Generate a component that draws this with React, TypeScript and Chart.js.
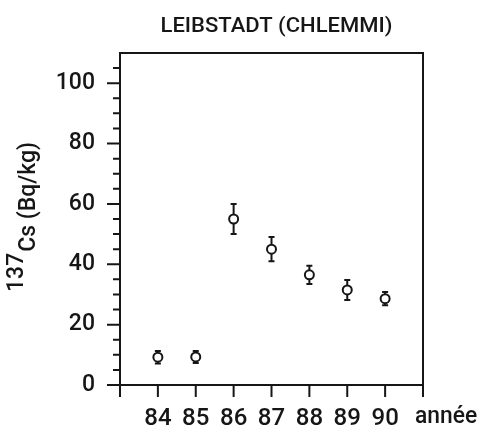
import React, { useEffect, useRef } from 'react';
import { Chart, registerables } from 'chart.js';

Chart.register(...registerables);

const years = [84, 85, 86, 87, 88, 89, 90];
const values = [9.2, 9.3, 55, 45, 36.5, 31.5, 28.6];
const errors = [2.1, 2.0, 5, 4, 3, 3.3, 2.2];
const yTickLabels = [0, 20, 40, 60, 80, 100];
const xTickLabels = [84, 85, 86, 87, 88, 89, 90];
const xTickMarks = [83, 84, 85, 86, 87, 88, 89, 90, 91];
const yMin = 0;
const yMax = 110;
const yMinorStep = 5;
const titleText = 'LEIBSTADT (CHLEMMI)';
const yLabelSup = '137';
const yLabelMain = 'Cs (Bq/kg)';
const xLabel = 'année';

const FONT = 'Roboto, "Liberation Sans", Arial, sans-serif';
const INK = '#161616';

export default function App() {
  const ref = useRef<HTMLCanvasElement | null>(null);

  useEffect(() => {
    if (!ref.current) return;

    const decor = {
      id: 'decor',
      beforeDatasetsDraw(chart: any) {
        const ctx = chart.ctx;
        const xs = chart.scales.x;
        const ys = chart.scales.y;
        ctx.save();
        ctx.strokeStyle = INK;
        ctx.lineWidth = 2;
        years.forEach((yr, i) => {
          const px = xs.getPixelForValue(yr);
          const top = ys.getPixelForValue(values[i] + errors[i]);
          const bot = ys.getPixelForValue(values[i] - errors[i]);
          ctx.beginPath();
          ctx.moveTo(px, top);
          ctx.lineTo(px, bot);
          ctx.moveTo(px - 3, top);
          ctx.lineTo(px + 3, top);
          ctx.moveTo(px - 3, bot);
          ctx.lineTo(px + 3, bot);
          ctx.stroke();
        });
        ctx.restore();
      },
      afterDraw(chart: any) {
        const ctx = chart.ctx;
        const a = chart.chartArea;
        const xs = chart.scales.x;
        const ys = chart.scales.y;
        ctx.save();
        ctx.strokeStyle = INK;
        ctx.lineWidth = 2;
        ctx.strokeRect(a.left, a.top, a.right - a.left, a.bottom - a.top);
        ctx.beginPath();
        xTickMarks.forEach((v) => {
          const px = xs.getPixelForValue(v);
          ctx.moveTo(px, a.bottom);
          ctx.lineTo(px, a.bottom + 12);
        });
        for (let v = yMin; v < yMax; v += yMinorStep) {
          const py = ys.getPixelForValue(v);
          const len = v % 20 === 0 ? 13 : 7;
          ctx.moveTo(a.left, py);
          ctx.lineTo(a.left - len, py);
        }
        ctx.stroke();

        ctx.fillStyle = INK;
        ctx.textBaseline = 'alphabetic';

        // title
        ctx.save();
        ctx.font = `500 21px ${FONT}`;
        ctx.textAlign = 'center';
        const tw = ctx.measureText(titleText).width;
        ctx.translate((a.left + a.right) / 2 + 5, 32);
        ctx.scale(Math.min(1.1, 232 / tw), 1);
        ctx.fillText(titleText, 0, 0);
        ctx.restore();

        // x axis label
        ctx.save();
        ctx.font = `500 24px ${FONT}`;
        ctx.textAlign = 'left';
        ctx.translate(415, 423);
        ctx.scale(0.95, 1);
        ctx.fillText(xLabel, 0, 0);
        ctx.restore();

        // rotated y label with superscript
        ctx.save();
        ctx.translate(35, 292);
        ctx.rotate(-Math.PI / 2);
        ctx.font = `500 23px ${FONT}`;
        ctx.textAlign = 'left';
        ctx.fillText(yLabelSup, 0, -12);
        const w = ctx.measureText(yLabelSup).width;
        ctx.fillText(yLabelMain, w + 1, 0);
        ctx.restore();

        ctx.restore();
      },
    };

    const chart = new Chart(ref.current, {
      type: 'scatter',
      data: {
        datasets: [
          {
            data: years.map((x, i) => ({ x, y: values[i] })),
            pointRadius: 4.5,
            pointBorderWidth: 2,
            pointBackgroundColor: '#ffffff',
            pointBorderColor: INK,
            showLine: false,
          },
        ],
      },
      options: {
        animation: false,
        responsive: false,
        layout: { padding: { top: 53, right: 56, left: 0, bottom: 0 } },
        plugins: { legend: { display: false }, title: { display: false }, tooltip: { enabled: false } },
        scales: {
          x: {
            type: 'linear',
            min: 83,
            max: 91,
            grid: { display: false },
            border: { display: false },
            afterBuildTicks: (s: any) => {
              s.ticks = xTickLabels.map((v) => ({ value: v }));
            },
            afterFit: (s: any) => {
              s.height = 43;
            },
            ticks: {
              autoSkip: false,
              maxRotation: 0,
              padding: 12,
              color: INK,
              font: { family: FONT, size: 24, weight: '500' },
              callback: (v: any) => String(v),
            },
          },
          y: {
            type: 'linear',
            min: yMin,
            max: yMax,
            grid: { display: false },
            border: { display: false },
            afterBuildTicks: (s: any) => {
              s.ticks = yTickLabels.map((v) => ({ value: v }));
            },
            afterFit: (s: any) => {
              s.width = 120;
            },
            ticks: {
              padding: 17,
              color: INK,
              font: { family: FONT, size: 23, weight: '500' },
              callback: (v: any) => String(v),
            },
          },
        },
      },
      plugins: [decor],
    });
    return () => chart.destroy();
  }, []);

  return (
    <div style={{ position: 'absolute', left: 0, top: 0, width: 479, height: 428, background: '#fff' }}>
      <canvas ref={ref} width={479} height={428} />
    </div>
  );
}
